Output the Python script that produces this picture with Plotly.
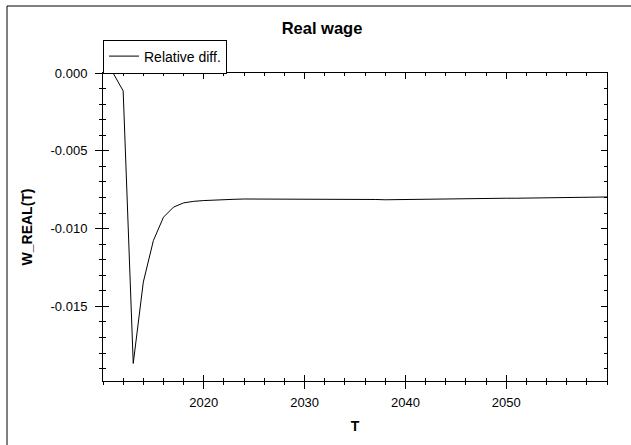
import plotly.graph_objects as go

years = list(range(2010, 2061))
rel_diff = [
    0.0, 0.0, -0.00115, -0.01867, -0.01344, -0.01077, -0.00927, -0.00862, -0.00835, -0.00825,
    -0.00820, -0.00816, -0.00814, -0.00812, -0.00810, -0.00810, -0.00810, -0.00810, -0.00810, -0.00810,
    -0.00810, -0.00810, -0.00810, -0.00811, -0.00813, -0.00813, -0.00810, -0.00813, -0.00815, -0.00814,
    -0.00812, -0.00810, -0.00810, -0.00810, -0.00809, -0.00809, -0.00808, -0.00808, -0.00806, -0.00806,
    -0.00805, -0.00805, -0.00804, -0.00803, -0.00801, -0.00800, -0.00800, -0.00799, -0.00798, -0.00798,
    -0.00797,
]
series_name = "Relative diff."
x_tickvals = [2020, 2030, 2040, 2050]
y_tickvals = [0.0, -0.005, -0.010, -0.015]
y_ticktext = ["0.000", "-0.005", "-0.010", "-0.015"]

FONT = "Arial, 'Liberation Sans', sans-serif"
X_RANGE = [2010, 2060]
Y_RANGE = [-0.0198, 0.0]

fig = go.Figure()
fig.add_trace(go.Scatter(
    x=years, y=rel_diff, mode="lines", name=series_name,
    line=dict(color="#000000", width=1), xaxis="x", yaxis="y",
))
# same series on overlay axes (provides outward half of crossing ticks)
fig.add_trace(go.Scatter(
    x=years, y=rel_diff, mode="lines", showlegend=False, hoverinfo="skip",
    line=dict(color="#000000", width=1), opacity=0, xaxis="x2", yaxis="y2",
))

common_font = dict(family=FONT, size=13, color="#000000")

fig.update_layout(
    width=631, height=445,
    margin=dict(l=103, r=24, t=73, b=64, autoexpand=False),
    paper_bgcolor="white", plot_bgcolor="white",
    font=common_font,
    hovermode=False,
    title=dict(text="<b>Real wage</b>", x=322 / 631, xanchor="center", xref="container",
               y=1 - 28 / 445, yanchor="middle", yref="container",
               font=dict(family=FONT, size=16.5, color="#000000")),
    showlegend=True,
    legend=dict(x=0, y=1 + (73 - 56.5) / 308, xanchor="left", yanchor="middle",
                bordercolor="#000000", borderwidth=1, bgcolor="white",
                font=dict(family=FONT, size=14, color="#000000"),
                itemwidth=30, tracegroupgap=0),
    xaxis=dict(
        range=X_RANGE, showgrid=False, zeroline=False,
        showline=True, linecolor="#000000", linewidth=1, mirror="ticks",
        ticks="inside", ticklen=6, tickcolor="#000000", tickwidth=1,
        tickvals=x_tickvals, tickfont=common_font, ticklabelstandoff=9,
        minor=dict(dtick=2, tick0=2010, ticks="inside", ticklen=3, tickcolor="#000000", showgrid=False),
        title=dict(text="<b>T</b>", font=dict(family=FONT, size=14, color="#000000"), standoff=12),
    ),
    yaxis=dict(
        range=Y_RANGE, showgrid=False, zeroline=False,
        showline=True, linecolor="#000000", linewidth=1, mirror="ticks",
        ticks="inside", ticklen=6, tickcolor="#000000", tickwidth=1,
        tickvals=y_tickvals, ticktext=y_ticktext, tickfont=common_font, ticklabelstandoff=12,
        minor=dict(dtick=0.001, tick0=0, ticks="inside", ticklen=3, tickcolor="#000000", showgrid=False),
        title=dict(text="<b>W_REAL(T)</b>", font=dict(family=FONT, size=14, color="#000000"), standoff=14),
    ),
    xaxis2=dict(
        range=X_RANGE, overlaying="x", anchor="y2", side="bottom",
        showgrid=False, zeroline=False, showline=False, showticklabels=False,
        ticks="outside", ticklen=7, tickcolor="#000000", tickwidth=1, tickvals=x_tickvals,
        minor=dict(dtick=2, tick0=2010, ticks="outside", ticklen=3, tickcolor="#000000", showgrid=False),
    ),
    yaxis2=dict(
        range=Y_RANGE, overlaying="y", anchor="x2", side="left",
        showgrid=False, zeroline=False, showline=False, showticklabels=False,
        ticks="outside", ticklen=7, tickcolor="#000000", tickwidth=1, tickvals=y_tickvals,
        minor=dict(dtick=0.001, tick0=0, ticks="outside", ticklen=3, tickcolor="#000000", showgrid=False),
    ),
    shapes=[dict(type="rect", xref="paper", yref="paper",
                 x0=(7 - 103) / 504, x1=(640 - 103) / 504,
                 y0=(381 - 452) / 308, y1=(381 - 6) / 308,
                 line=dict(color="#000000", width=1), fillcolor="rgba(0,0,0,0)", layer="below")],
)

fig.write_html("out.html",
               config={"displayModeBar": False, "staticPlot": True},
               post_script="document.body.style.margin='0';document.body.style.overflow='hidden';")
